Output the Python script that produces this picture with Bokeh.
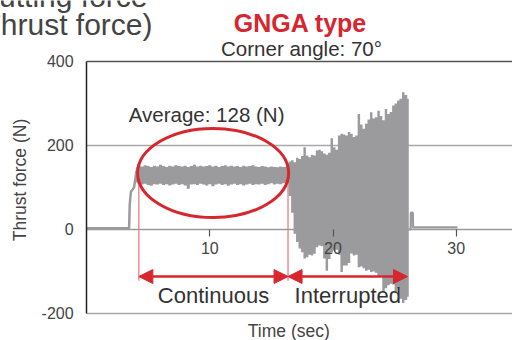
from bokeh.plotting import figure
from bokeh.models import Range1d, FixedTicker, Label, Arrow, NormalHead, PrintfTickFormatter
from bokeh.embed import file_html
from bokeh.resources import INLINE
import math

# ---------------- data ----------------
y_ticks = [-200, 0, 200, 400]
x_ticks = [10, 20, 30]
x_axis_end = 34.57

# quiet lead-in and ramp (sec, N)
t_pre = [0.0, 3.45, 3.5, 3.6, 3.85, 4.05]
f_pre = [3, 3, 60, 90, 100, 140]

# continuous cutting band: time, upper and lower envelope (N)
t_cont = [4.0, 4.25, 4.5, 4.75, 5.0, 5.25, 5.5, 5.75, 6.0, 6.25,
          6.5, 6.75, 7.0, 7.25, 7.5, 7.75, 8.0, 8.25, 8.5, 8.75,
          9.0, 9.25, 9.5, 9.75, 10.0, 10.25, 10.5, 10.75, 11.0, 11.25,
          11.5, 11.75, 12.0, 12.25, 12.5, 12.75, 13.0, 13.25, 13.5, 13.75,
          14.0, 14.25, 14.5, 14.75, 15.0, 15.25, 15.5, 15.75, 16.0, 16.3]
hi_cont = [148, 152, 150, 153, 151, 149, 152, 150, 154, 151,
           149, 152, 150, 153, 151, 150, 152, 149, 151, 154,
           150, 152, 150, 151, 153, 150, 152, 149, 151, 153,
           150, 152, 150, 151, 149, 152, 150, 151, 153, 150,
           149, 151, 150, 148, 150, 149, 148, 150, 149, 150]
lo_cont = [112, 108, 107, 109, 106, 104, 108, 107, 109, 106,
           108, 105, 107, 109, 106, 108, 105, 97, 107, 108,
           106, 109, 107, 105, 108, 103, 107, 109, 106, 108,
           104, 107, 109, 106, 108, 105, 107, 109, 106, 108,
           107, 109, 106, 108, 110, 107, 109, 108, 110, 112]

# interrupted cutting: time, upper and lower envelope (N)
t_int = [16.3, 16.5, 16.7, 16.9, 17.1, 17.3, 17.5, 17.7, 17.9, 18.1,
         18.3, 18.5, 18.7, 18.9, 19.1, 19.3, 19.5, 19.7, 19.9, 20.1,
         20.3, 20.5, 20.7, 20.9, 21.1, 21.3, 21.5, 21.7, 21.9, 22.1,
         22.3, 22.5, 22.7, 22.9, 23.1, 23.3, 23.5, 23.7, 23.9, 24.1,
         24.3, 24.5, 24.7, 24.9, 25.1, 25.3, 25.5, 25.7, 25.9, 26.15]
hi_int = [150, 162, 165, 160, 171, 168, 175, 196, 176, 172,
          178, 176, 188, 190, 186, 181, 178, 183, 217, 196,
          190, 224, 228, 226, 224, 232, 228, 220, 224, 275,
          250, 240, 252, 262, 279, 264, 267, 283, 270, 260,
          287, 275, 280, 295, 300, 307, 311, 327, 320, 311]
lo_int = [110, 80, 40, -10, -30, -45, -54, -69, -66, -60,
          -62, -58, -42, -38, -40, -69, -98, -70, -55, -50,
          -48, -60, -101, -86, -86, -80, -57, -62, -60, -90,
          -88, -92, -98, -96, -101, -100, -103, -113, -110, -149,
          -140, -133, -129, -131, -152, -140, -165, -175, -168, -160]

# tail after the cut
t_post = [26.15, 26.3, 26.32, 26.48, 26.5, 26.6, 30.1]
f_post = [0, 0, 40, 40, 5, 5, 5]

# annotations (data units)
avg_text = "Average: 128 (N)"
phase_edges = [4.24, 16.35, 26.05]
phase_names = ["Continuous", "Interrupted"]
ellipse_c = (10.27, 134.5)
ellipse_size = (12.26, 212)

# ---------------- styling ----------------
FONT = "Liberation Sans"
GRAY = "#9b9b9d"
RED = "#d7262e"
TXT = "#333333"
K = 0.33          # baseline correction (fraction of font size)
PX_PER_N = 0.42   # vertical pixels per newton

W, H = 512, 340
# the frame covers the whole canvas; axes are drawn at fixed locations
p = figure(width=W, height=H, output_backend="svg", toolbar_location=None,
           x_range=Range1d(-6.989, x_axis_end), y_range=Range1d(-264.3, 545.2),
           min_border=0, background_fill_color="white", border_fill_color="white")
p.outline_line_color = None
p.title.visible = False
p.xgrid.visible = False
p.ygrid.visible = False

xa = p.xaxis[0]
xa.fixed_location = 0
xa.bounds = (0, x_axis_end)
xa.ticker = FixedTicker(ticks=x_ticks)
xa.axis_line_color = "#9a9a9a"
xa.axis_line_width = 1.5
xa.major_tick_in = 0
xa.major_tick_out = 7
xa.major_tick_line_color = "#555555"
xa.major_tick_line_width = 1.2
xa.minor_tick_line_color = None
xa.major_label_standoff = 6
xa.major_label_text_font = FONT
xa.major_label_text_font_size = "16px"
xa.major_label_text_color = "#444444"

ya = p.yaxis[0]
ya.fixed_location = 0
ya.bounds = (y_ticks[0], y_ticks[-1])
ya.ticker = FixedTicker(ticks=y_ticks)
ya.formatter = PrintfTickFormatter(format="%d")
ya.axis_line_color = "#222222"
ya.axis_line_width = 1.5
ya.major_tick_line_color = None
ya.minor_tick_line_color = None
ya.major_tick_in = 0
ya.major_tick_out = 0
ya.major_label_standoff = 13
ya.major_label_text_font = FONT
ya.major_label_text_font_size = "16px"
ya.major_label_text_color = "#444444"

# frame top, grid line at 200 and frame bottom
p.segment(x0=[0, 0], y0=[y_ticks[2], y_ticks[0]], x1=[x_axis_end] * 2,
          y1=[y_ticks[2], y_ticks[0]], line_color="#a8a8a8", line_width=1.5)
p.segment(x0=[0], y0=[y_ticks[3]], x1=[x_axis_end], y1=[y_ticks[3]],
          line_color="#555555", line_width=1.5)

# red phase boundaries
p.segment(x0=phase_edges[:2], y0=[110, 150], x1=phase_edges[:2], y1=[-122, -122],
          line_color="#e6737c", line_width=1.2)

# signal
p.line(t_pre, f_pre, line_color=GRAY, line_width=2.5)
p.varea_step(x=t_cont, y1=lo_cont, y2=hi_cont, step_mode="center", fill_color=GRAY)
p.varea_step(x=t_int, y1=lo_int, y2=hi_int, step_mode="center", fill_color=GRAY)
p.line(t_post, f_post, line_color=GRAY, line_width=2.2)

# ellipse around the continuous band
p.ellipse(x=[ellipse_c[0]], y=[ellipse_c[1]], width=[ellipse_size[0]],
          height=[ellipse_size[1]], fill_color=None, line_color=RED, line_width=3)

# double arrows
for a, b in zip(phase_edges[:-1], phase_edges[1:]):
    p.add_layout(Arrow(x_start=a, y_start=-112, x_end=b, y_end=-112,
                       line_color=RED, line_width=2.5,
                       start=NormalHead(size=14, fill_color=RED, line_color=RED, line_width=1),
                       end=NormalHead(size=14, fill_color=RED, line_color=RED, line_width=1)))

def lab(text, x, y, size, color=TXT, align="center", xu="data", yu="data",
        style="normal", angle=0.0):
    p.add_layout(Label(x=x, y=y, x_units=xu, y_units=yu, text=text,
                       text_font=FONT, text_font_size=f"{size}px", text_color=color,
                       text_align=align, text_baseline="alphabetic",
                       text_font_style=style, angle=angle))

def data_lab(text, x, y_base, size):
    lab(text, x, y_base + K * size / PX_PER_N, size)

def canvas_lab(text, cx, cy, size, **kw):
    # cx, cy: baseline anchor in canvas pixels (from top-left)
    lab(text, cx, H - cy + K * size, size, xu="screen", yu="screen", **kw)

data_lab(avg_text, 9.74, 257.1, 20.5)
data_lab(phase_names[0], 10.3, -175.5, 22)
data_lab(phase_names[1], 21.2, -175.5, 22)

# titles
canvas_lab("GNGA type", 300, 30.7, 25, color=RED, style="bold")
canvas_lab("Corner angle: 70\u00b0", 301, 54.3, 20.5)
canvas_lab("Cutting force", 147, 6, 30, color="#444444", align="right")
canvas_lab("(Thrust force)", 152, 34.3, 30, color="#444444", align="right")

# axis titles
canvas_lab("Time (sec)", 288.3, 336, 17.5, color="#444444")
lab("Thrust force (N)", 25 - K * 17.5, H - 179.5, 17.5, color="#444444",
    xu="screen", yu="screen", angle=math.pi / 2)

open("out.html", "w").write(file_html(p, INLINE))
